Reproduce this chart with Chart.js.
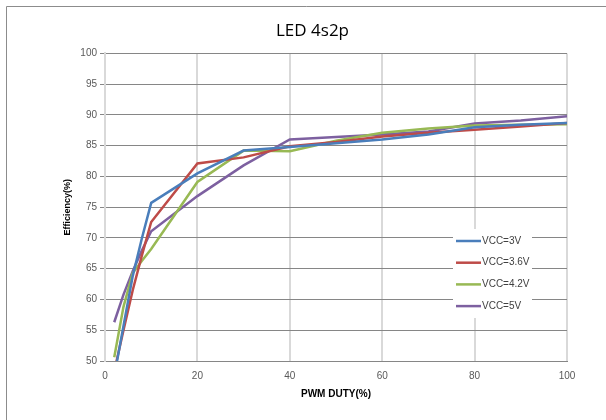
<!DOCTYPE html>
<html>
<head>
<meta charset="utf-8">
<script src="https://cdn.jsdelivr.net/npm/chart.js@4"></script>
<style>
  html, body { margin: 0; padding: 0; background: #fff; overflow: hidden; }
  #wrap { width: 606px; height: 420px; position: relative; }
</style>
</head>
<body>
<div id="wrap"><canvas id="myChart" width="606" height="420"></canvas></div>
<script>
const duty = [2, 4, 6, 8, 10, 20, 30, 40, 50, 60, 70, 80, 90, 100];
const vcc3 = [47.5, 55.7, 63.8, 70.0, 75.7, 80.5, 84.2, 84.8, 85.4, 86.0, 86.8, 88.0, 88.4, 88.7];
const vcc36 = [48.3, 55.0, 61.5, 67.2, 72.6, 82.1, 83.1, 84.9, 85.6, 86.5, 87.1, 87.6, 88.1, 88.7];
const vcc42 = [50.6, 58.8, 64.3, 66.3, 68.2, 79.1, 84.2, 84.1, 85.8, 87.1, 87.8, 88.3, 88.4, 88.5];
const vcc5 = [56.3, 60.8, 64.6, 68.0, 71.1, 76.8, 81.8, 86.0, 86.4, 86.8, 87.3, 88.6, 89.1, 89.8];
const seriesNames = ["VCC=3V", "VCC=3.6V", "VCC=4.2V", "VCC=5V"];
const colors = ["#4a7ebb", "#be4b48", "#98b954", "#7d60a0"];
const yTicks = [50, 55, 60, 65, 70, 75, 80, 85, 90, 95, 100];
const xTicks = [0, 20, 40, 60, 80, 100];

function pts(vals) {
  return duty.map((d, i) => ({ x: d, y: vals[i] }));
}

const datasets = [vcc3, vcc36, vcc42, vcc5].map((vals, i) => ({
  label: seriesNames[i],
  data: pts(vals),
  borderColor: colors[i],
  backgroundColor: colors[i],
  borderWidth: 2.5,
  pointRadius: 0,
  tension: 0,
  showLine: true,
}));

// gray frame round the chart, like the excel export
const framePlugin = {
  id: "frame",
  beforeDraw(chart) {
    const ctx = chart.ctx;
    ctx.save();
    ctx.strokeStyle = "#8c8c8c";
    ctx.lineWidth = 1;
    ctx.beginPath();
    ctx.moveTo(6.5, 420);
    ctx.lineTo(6.5, 6.5);
    ctx.lineTo(606, 6.5);
    ctx.stroke();
    ctx.restore();
  },
};

// legend box sitting inside the plot area
const boxLegend = {
  id: "boxLegend",
  afterDatasetsDraw(chart) {
    const ctx = chart.ctx;
    const x0 = 453, y0 = 229, rowH = 21.7;
    ctx.save();
    ctx.fillStyle = "#fff";
    ctx.fillRect(x0, y0, 79, 89);
    ctx.font = "10px 'Liberation Sans'";
    ctx.textBaseline = "middle";
    chart.data.datasets.forEach((ds, i) => {
      const y = y0 + 12 + i * rowH;
      ctx.strokeStyle = ds.borderColor;
      ctx.lineWidth = 2.5;
      ctx.beginPath();
      ctx.moveTo(456, y);
      ctx.lineTo(481, y);
      ctx.stroke();
      ctx.fillStyle = "#404040";
      ctx.fillText(ds.label, 482, y);
    });
    ctx.restore();
  },
};

new Chart(document.getElementById("myChart"), {
  type: "scatter",
  data: { datasets: datasets },
  plugins: [framePlugin, boxLegend],
  options: {
    responsive: false,
    animation: false,
    layout: { padding: { left: 58, right: 39, top: 0, bottom: 16 } },
    plugins: {
      legend: { display: false },
      tooltip: { enabled: false },
      title: {
        display: true,
        text: "LED 4s2p",
        color: "#000",
        font: { family: "'Open Sans'", size: 17, weight: "normal" },
        padding: { top: 21, bottom: 12 },
      },
    },
    scales: {
      x: {
        type: "linear",
        min: 0,
        max: 100,
        afterBuildTicks(scale) {
          scale.ticks = xTicks.map((v) => ({ value: v }));
        },
        afterFit(scale) { scale.height = 43; },
        grid: { color: "#d9d9d9", lineWidth: 2, drawTicks: false },
        border: { color: "#868686", width: 1 },
        ticks: {
          padding: 9,
          color: "#595959",
          font: { family: "'Liberation Sans'", size: 10 },
          maxRotation: 0,
        },
        title: {
          display: true,
          text: "PWM DUTY(%)",
          color: "#000",
          font: { family: "'Liberation Sans'", size: 10, weight: "bold" },
          padding: { top: 4, bottom: 4 },
        },
      },
      y: {
        type: "linear",
        min: 50,
        max: 100,
        afterBuildTicks(scale) {
          scale.ticks = yTicks.map((v) => ({ value: v }));
        },
        afterFit(scale) { scale.width = 47; },
        grid: { color: "#868686", lineWidth: 1, tickLength: 5 },
        border: { color: "#d9d9d9", width: 2 },
        ticks: {
          padding: 3,
          color: "#595959",
          font: { family: "'Liberation Sans'", size: 10 },
        },
        title: {
          display: true,
          text: "Efficiency(%)",
          color: "#000",
          font: { family: "'Liberation Sans'", size: 9, weight: "bold" },
          padding: { top: 4, bottom: 0 },
        },
      },
    },
  },
});
</script>
</body>
</html>
